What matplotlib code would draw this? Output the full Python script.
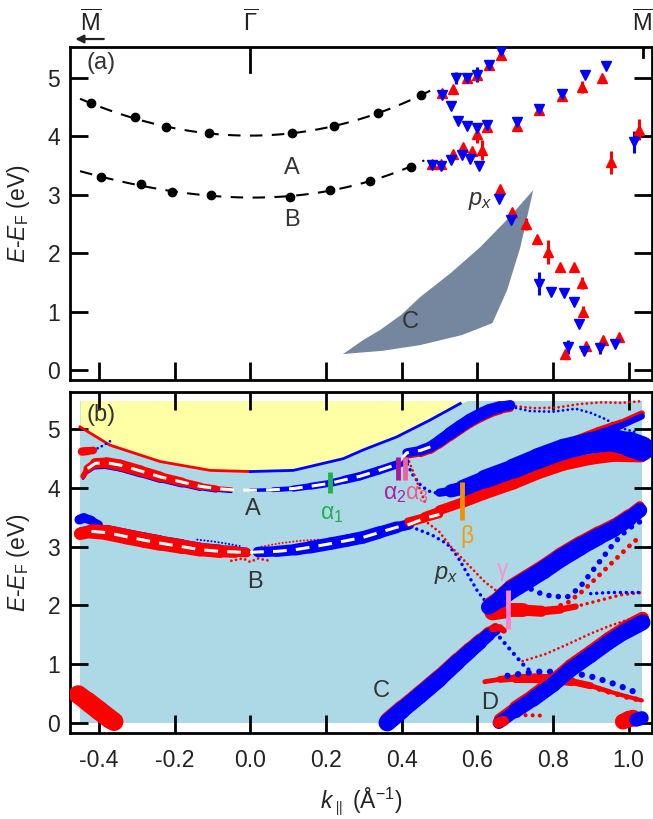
import numpy as np
import matplotlib
matplotlib.use("Agg")
import matplotlib.pyplot as plt
from matplotlib.collections import LineCollection
from matplotlib.transforms import blended_transform_factory

plt.rcParams["font.family"] = ["Liberation Sans", "DejaVu Sans"]
plt.rcParams["mathtext.fontset"] = "custom"
plt.rcParams["mathtext.rm"] = "Liberation Sans"
plt.rcParams["mathtext.it"] = "Liberation Sans:italic"
plt.rcParams["mathtext.bf"] = "Liberation Sans:bold"
plt.rcParams["axes.unicode_minus"] = False

RED = "#ff0000"
BLUE = "#0000ff"
TXT = "#333333"

# %% panel (a): measured points
dotA_k = [-0.422, -0.305, -0.223, -0.110, 0.111, 0.222, 0.337, 0.451]
dotA_e = [4.56, 4.32, 4.15, 4.05, 4.05, 4.18, 4.39, 4.70]
dotB_k = [-0.395, -0.290, -0.208, -0.104, 0.105, 0.211, 0.317, 0.425]
dotB_e = [3.30, 3.18, 3.04, 2.99, 2.96, 3.08, 3.24, 3.48]

up_k = [0.480, 0.504, 0.535, 0.562, 0.586, 0.612,
        0.508, 0.537, 0.573, 0.600, 0.632, 0.663,
        0.600, 0.625, 0.705, 0.763, 0.824, 0.877, 0.931,
        1.027, 0.954,
        0.661, 0.692, 0.729, 0.758, 0.788, 0.818, 0.855, 0.878, 0.879,
        0.833, 0.887, 0.932, 0.974]
up_e = [3.53, 3.53, 3.70, 3.81, 3.74, 3.76,
        4.74, 4.81, 5.00, 5.05, 5.22, 5.38,
        4.03, 4.15, 4.17, 4.44, 4.68, 4.84, 5.00,
        4.11, 3.55,
        3.09, 2.70, 2.50, 2.25, 2.02, 1.77, 1.76, 1.49, 1.00,
        0.28, 0.42, 0.51, 0.56]
up_err = [0, 0, 0, 0, 0, 0.17,
          0, 0, 0, 0, 0, 0,
          0.14, 0, 0, 0, 0, 0.10, 0,
          0.18, 0.19,
          0, 0, 0.10, 0, 0.20, 0, 0, 0.10, 0.10,
          0, 0, 0, 0]

dn_k = [0.480, 0.504, 0.531, 0.559, 0.581, 0.605,
        0.508, 0.531, 0.550, 0.574, 0.600, 0.625, 0.705, 0.763, 0.824, 0.884, 0.940,
        0.543, 0.573, 0.600, 0.632, 0.663,
        1.014,
        0.657, 0.689,
        0.762, 0.795, 0.830, 0.856, 0.868, 0.840, 0.883, 0.925, 0.965]
dn_e = [3.50, 3.49, 3.59, 3.68, 3.61, 3.49,
        4.70, 4.51, 4.26, 4.17, 4.14, 4.19, 4.24, 4.46, 4.72, 5.05, 5.20,
        5.00, 5.00, 5.05, 5.22, 5.45,
        3.90,
        2.92, 2.56,
        1.48, 1.34, 1.32, 1.17, 0.78, 0.40, 0.33, 0.37, 0.44]
dn_err = [0, 0, 0, 0, 0, 0,
          0, 0, 0, 0, 0, 0, 0, 0, 0, 0, 0,
          0.10, 0, 0.13, 0, 0,
          0.19,
          0, 0,
          0.20, 0, 0, 0, 0, 0.12, 0, 0.10, 0]

regionC_k = [0.245, 0.300, 0.343, 0.400, 0.449, 0.530, 0.608, 0.680, 0.748,
             0.714, 0.679, 0.640, 0.560, 0.449, 0.350, 0.245]
regionC_e = [0.274, 0.520, 0.684, 0.950, 1.248, 1.660, 2.103, 2.580, 3.077,
             2.103, 1.368, 0.803, 0.600, 0.427, 0.330, 0.274]

# %% panel (b): calculated bands  (k, E, width in pt)
bg_k = [-0.45, 1.035]
bg_e = [0.0, 5.49]

yel_k = [-0.45, -0.371, -0.238, -0.106, 0.0, 0.114, 0.246, 0.299, 0.387, 0.476, 0.555, 0.575]
yel_e = [5.04, 4.73, 4.45, 4.30, 4.28, 4.30, 4.50, 4.65, 4.87, 5.16, 5.44, 5.49]

topblob_k = [-0.445, -0.43, -0.415]
topblob_e = [4.62, 4.63, 4.64]
topblob_w = [6, 6, 5]

A_red_k = [-0.442, -0.43, -0.41, -0.38, -0.344, -0.29, -0.238, -0.18, -0.133, -0.09, -0.05]
A_red_e = [4.20, 4.33, 4.42, 4.43, 4.39, 4.29, 4.19, 4.10, 4.03, 3.99, 3.97]
A_red_w = [3, 5, 7, 8, 8, 8, 7, 6, 5, 4, 3]
A_blue_k = [0.0, 0.06, 0.114, 0.16, 0.211, 0.25, 0.29, 0.34, 0.387, 0.41]
A_blue_e = [3.96, 3.97, 3.99, 4.03, 4.08, 4.14, 4.20, 4.30, 4.40, 4.45]
A_blue_w = [2, 3, 4, 5, 5, 6, 6, 6, 6, 5]

A2_k = [0.414, 0.45, 0.476, 0.50, 0.528, 0.555, 0.581, 0.61, 0.634, 0.66, 0.687]
A2_e = [4.60, 4.64, 4.70, 4.80, 4.93, 5.05, 5.16, 5.26, 5.33, 5.38, 5.41]
A2_w = [6, 7, 8, 8, 9, 9, 9, 9, 9, 8, 7]

B_red_k = [-0.45, -0.42, -0.38, -0.327, -0.28, -0.238, -0.18, -0.133, -0.08, -0.04, -0.01]
B_red_e = [3.22, 3.26, 3.24, 3.17, 3.11, 3.06, 3.00, 2.95, 2.92, 2.91, 2.90]
B_red_w = [8, 10, 11, 11, 11, 11, 10, 10, 9, 8, 6]
B_curl_k = [-0.452, -0.44, -0.42, -0.40]
B_curl_e = [3.46, 3.49, 3.45, 3.38]
B_curl_w = [7, 7, 6, 5]
B_blue_k = [0.02, 0.07, 0.12, 0.158, 0.211, 0.26, 0.299, 0.34, 0.387, 0.42]
B_blue_e = [2.91, 2.92, 2.95, 2.99, 3.05, 3.11, 3.16, 3.24, 3.33, 3.38]
B_blue_w = [7, 8, 8, 9, 9, 9, 9, 9, 8, 7]
B_tail_k = [0.42, 0.46, 0.50]
B_tail_e = [3.41, 3.48, 3.55]
B_tail_w = [6, 6, 5]

big_blue_k = [0.50, 0.53, 0.563, 0.62, 0.696, 0.76, 0.828, 0.90, 0.96, 1.00, 1.035]
big_blue_e = [3.92, 3.95, 4.00, 4.15, 4.33, 4.50, 4.66, 4.77, 4.81, 4.75, 4.67]
big_blue_w = [4, 8, 11, 13, 14, 15, 15, 15, 16, 17, 19]
big_red_k = [0.414, 0.46, 0.50, 0.563, 0.62, 0.696, 0.76, 0.828, 0.90, 0.96, 1.035]
big_red_e = [3.45, 3.53, 3.62, 3.76, 3.90, 4.07, 4.24, 4.39, 4.49, 4.54, 4.53]
big_red_w = [3, 4, 6, 8, 8, 8, 8, 8, 8, 8, 8]
branch_k = [0.80, 0.86, 0.92, 0.98, 1.035]
branch_e = [4.62, 4.78, 4.93, 5.06, 5.22]
branch_w = [4, 5, 5, 5, 4]

gam_k = [0.63, 0.66, 0.687, 0.73, 0.775, 0.82, 0.872, 0.92, 0.96, 1.00, 1.03]
gam_e = [1.97, 2.10, 2.25, 2.42, 2.60, 2.80, 3.00, 3.17, 3.30, 3.47, 3.62]
gam_w = [10, 12, 13, 13, 13, 13, 13, 12, 12, 11, 10]
low_red_k = [0.64, 0.68, 0.72, 0.77, 0.82, 0.86]
low_red_e = [1.88, 1.92, 1.92, 1.90, 1.93, 1.98]
low_red_w = [12, 11, 9, 7, 5, 4]

C_k = [0.362, 0.40, 0.447, 0.50, 0.547, 0.58, 0.607, 0.63, 0.648]
C_e = [0.0, 0.21, 0.46, 0.75, 1.03, 1.22, 1.37, 1.50, 1.58]
C_w = [13, 12, 12, 12, 11, 11, 10, 9, 7]
Ccap_k = [0.64, 0.66, 0.67]
Ccap_e = [1.60, 1.62, 1.57]

D_k = [0.657, 0.70, 0.747, 0.80, 0.847, 0.90, 0.947, 0.99, 1.037]
D_e = [0.0, 0.2, 0.40, 0.65, 0.91, 1.15, 1.37, 1.55, 1.71]
D_w = [8, 10, 11, 11, 11, 11, 11, 11, 12]

mid_red_k = [0.62, 0.66, 0.70, 0.75, 0.80, 0.85, 0.90, 0.95, 1.00, 1.035]
mid_red_e = [0.70, 0.74, 0.76, 0.76, 0.74, 0.70, 0.63, 0.53, 0.44, 0.38]
mid_red_w = [3, 4, 6, 7, 7, 6, 4, 3, 3, 3]
mid_blue_k = [0.68, 0.72, 0.76, 0.80, 0.85, 0.90, 0.95, 1.00, 1.035]
mid_blue_e = [0.80, 0.84, 0.87, 0.87, 0.85, 0.79, 0.69, 0.57, 0.47]

corner_k = [-0.455, -0.43, -0.40, -0.37, -0.36]
corner_e = [0.48, 0.36, 0.21, 0.06, 0.02]
corner_w = [13, 14, 14, 14, 13]
br_red_k = [0.985, 1.0, 1.012]
br_red_e = [0.02, 0.06, 0.08]
br_blue_k = [1.02, 1.035]
br_blue_e = [0.05, 0.08]

# thin dotted / beaded bands: (k, E, dot size, colour)
dotted = [
    ([-0.415, -0.39, -0.37], [4.64, 4.72, 4.80], 2.0, BLUE),
    ([0.415, 0.43, 0.45, 0.47, 0.50], [4.40, 4.22, 4.05, 3.95, 3.90], 2.5, BLUE),
    ([0.42, 0.435, 0.45, 0.465], [4.45, 4.20, 3.95, 3.70], 2.0, RED),
    ([0.44, 0.48, 0.52, 0.546, 0.573, 0.60, 0.63], [3.30, 3.20, 3.05, 2.85, 2.55, 2.25, 2.00], 2.5, BLUE),
    ([0.47, 0.50, 0.53, 0.56, 0.59, 0.62, 0.65], [3.40, 3.25, 3.00, 2.80, 2.60, 2.40, 2.25], 2.0, RED),
    ([0.69, 0.75, 0.81, 0.87, 0.93, 0.98, 1.035], [5.40, 5.36, 5.37, 5.43, 5.46, 5.45, 5.48], 2.0, RED),
    ([0.69, 0.74, 0.80, 0.86, 0.90, 0.94, 0.98, 1.02], [5.38, 5.31, 5.30, 5.35, 5.28, 5.17, 5.02, 4.95], 2.0, BLUE),
    ([-0.14, -0.10, -0.06, -0.02], [3.12, 3.09, 3.05, 3.00], 1.5, BLUE),
    ([0.03, 0.08, 0.13, 0.18], [3.00, 3.06, 3.10, 3.12], 1.5, RED),
    ([-0.05, -0.02, 0.0, 0.02, 0.05], [2.76, 2.80, 2.74, 2.80, 2.76], 2.0, RED),
    ([0.72, 0.76, 0.80, 0.84, 0.87, 0.90, 0.93, 0.96, 0.99, 1.02, 1.04], [2.35, 2.22, 2.15, 2.15, 2.30, 2.55, 2.80, 3.05, 3.25, 3.40, 3.45], 4.0, BLUE),
    ([0.80, 0.84, 0.88, 0.92, 0.96, 1.00, 1.035], [1.95, 2.05, 2.25, 2.50, 2.75, 3.00, 3.20], 3.5, RED),
    ([0.86, 0.92, 0.98, 1.035], [1.98, 2.08, 2.18, 2.22], 2.5, RED),
    ([0.90, 0.95, 1.00, 1.035], [2.20, 2.22, 2.22, 2.22], 2.5, BLUE),
    ([0.66, 0.68, 0.70, 0.72, 0.74], [1.45, 1.30, 1.15, 1.00, 0.88], 3.0, BLUE),
    ([0.72, 0.78, 0.84, 0.90, 0.95, 1.00, 1.035], [1.05, 1.17, 1.34, 1.52, 1.65, 1.76, 1.82], 2.0, RED),
    ([0.69, 0.73, 0.78], [0.12, 0.13, 0.12], 3.0, RED),
    ([0.85, 0.90, 0.95, 1.00, 1.035], [0.70, 0.62, 0.52, 0.43, 0.38], 4.0, RED),
]

markers = [  # k, E_low, E_high, colour
    (0.211, 3.91, 4.28, "#1db34a"),
    (0.390, 4.13, 4.53, "#a8199a"),
    (0.409, 4.13, 4.53, "#f26395"),
    (0.559, 3.45, 4.11, "#f0900a"),
    (0.680, 1.60, 2.26, "#ff80cc"),
]
greek = [  # text, k, E, colour
    (r"$\mathrm{\alpha}_1$", 0.215, 3.57, "#1db34a"),
    (r"$\mathrm{\alpha}_2$", 0.383, 3.91, "#b01e9c"),
    (r"$\mathrm{\alpha}_3$", 0.441, 3.91, "#ee5a8f"),
    (r"$\mathrm{\beta}$", 0.573, 3.17, "#f39c12"),
    (r"$\mathrm{\gamma}$", 0.667, 2.57, "#ff8fd0"),
]


def fat(ax, k, e, w, color, z=3, de=0.0):
    pts = np.column_stack([k, np.asarray(e) + de])
    segs = np.stack([pts[:-1], pts[1:]], axis=1)
    w = np.asarray(w, float)
    lc = LineCollection(segs, linewidths=(w[:-1] + w[1:]) / 2, colors=color,
                        capstyle="round", joinstyle="round", zorder=z)
    ax.add_collection(lc)


def beads(ax, k, e, size, color, z=2):
    ax.plot(k, e, color=color, lw=size, ls=(0, (0.01, 1.7)),
            dash_capstyle="round", zorder=z)


# %% figure
fig = plt.figure(figsize=(6.53, 8.19), dpi=100)
ax_a = fig.add_axes([0.1072, 0.5360, 0.8913, 0.4066])
ax_b = fig.add_axes([0.1072, 0.1046, 0.8913, 0.4171])

xlim = (-0.4766, 1.062)
for ax in (ax_a, ax_b):
    ax.set_xlim(*xlim)
    ax.set_xticks([-0.4, -0.2, 0.0, 0.2, 0.4, 0.6, 0.8, 1.0])
    ax.set_yticks([0, 1, 2, 3, 4, 5])
    ax.tick_params(direction="in", length=13, width=2, labelsize=16.5,
                   labelcolor="#222222", left=True, right=True, bottom=True)
    ax.tick_params(axis="y", pad=7)
    ax.tick_params(axis="x", pad=11)
    for s in ax.spines.values():
        s.set_linewidth(2)
    ax.set_ylabel(r"$E$-$E_{\rm F}$ (eV)", fontsize=16.5, color="#222222")
    ax.yaxis.set_label_coords(-0.066, 0.5)

ax_a.set_ylim(-0.17, 5.525)
ax_b.set_ylim(-0.18, 5.64)
ax_a.tick_params(top=False, labelbottom=False)
ax_b.tick_params(top=True)
ax_b.set_xlabel(r"$k_{\parallel}$ (Å$^{-1}$)", fontsize=16.5, color="#222222")
ax_b.xaxis.set_label_coords(0.5, -0.152)

# ---------------- panel (a)
cA = np.polyfit(dotA_k, dotA_e, 3)
cB = np.polyfit(dotB_k, dotB_e, 3)
kk = np.linspace(-0.45, 0.48, 120)
ax_a.plot(kk, np.polyval(cA, kk), color="k", lw=1.5, dashes=(6, 4.5), zorder=2)
kk = np.linspace(-0.45, 0.46, 120)
ax_a.plot(kk, np.polyval(cB, kk), color="k", lw=1.5, dashes=(6, 4.5), zorder=2)
ax_a.plot(dotA_k, dotA_e, "o", color="k", ms=6, zorder=3)
ax_a.plot(dotB_k, dotB_e, "o", color="k", ms=6, zorder=3)

ax_a.fill(regionC_k, regionC_e, color="#75879f", lw=0, zorder=1)

ax_a.errorbar(up_k, up_e, yerr=up_err, fmt="^", color=RED, ms=7.5,
              elinewidth=2.2, capsize=0, zorder=4)
ax_a.errorbar(dn_k, dn_e, yerr=dn_err, fmt="v", color=BLUE, ms=7.5,
              elinewidth=2.2, capsize=0, zorder=4)

ax_a.text(0.111, 3.46, "A", fontsize=17, color=TXT, ha="center", va="center")
ax_a.text(0.111, 2.57, "B", fontsize=17, color=TXT, ha="center", va="center")
ax_a.text(0.423, 0.82, "C", fontsize=17, color=TXT, ha="center", va="center")
ax_a.text(0.608, 2.90, r"$p_x$", fontsize=17, color=TXT, ha="center", va="center")
ax_a.text(0.0275, 0.952, "(a)", fontsize=17, color=TXT, transform=ax_a.transAxes,
          ha="left", va="center")

# symmetry points on top
trans = blended_transform_factory(ax_a.transData, ax_a.transAxes)
for lab, kx in [(r"$\overline{\mathrm{M}}$", -0.421), (r"$\overline{\Gamma}$", 0.0),
                (r"$\overline{\mathrm{M}}$", 1.039)]:
    ax_a.text(kx, 1.048, lab, fontsize=17, color="#222222", ha="center",
              va="baseline", transform=trans, clip_on=False)
ax_a.annotate("", xy=(-0.47, 1.024), xytext=(-0.38, 1.024), xycoords=trans,
              textcoords=trans, annotation_clip=False,
              arrowprops=dict(arrowstyle="-|>", lw=1.6, color="#222222",
                              mutation_scale=12))
ax_a.axvline(0.0, 0.925, 1.0, color="k", lw=2)
ax_a.axvline(1.039, 0.97, 1.0, color="k", lw=2)

# ---------------- panel (b)
ax_b.fill_between(bg_k, bg_e[0], bg_e[1], color="#add8e6", lw=0, zorder=0)
ax_b.fill_between(yel_k, yel_e, bg_e[1], color="#ffffa6", lw=0, zorder=0.5)
yk = np.array(yel_k)
ye = np.array(yel_e)
ax_b.plot(yk[yk <= 0], ye[yk <= 0], color=RED, lw=2, zorder=2)
ax_b.plot(yk[(yk >= 0) & (yk < 0.56)], ye[(yk >= 0) & (yk < 0.56)], color=BLUE, lw=2, zorder=2)

for k, e, s, c in dotted:
    beads(ax_b, k, e, s, c)

fat(ax_b, topblob_k, topblob_e, topblob_w, RED)
fat(ax_b, A_red_k, A_red_e, [w - 2 for w in A_red_w], BLUE, de=-0.04)
fat(ax_b, A_red_k, A_red_e, A_red_w, RED)
fat(ax_b, A_blue_k, A_blue_e, A_blue_w, BLUE)
fat(ax_b, A2_k, A2_e, [w - 2 for w in A2_w], RED, de=-0.05)
fat(ax_b, A2_k, A2_e, A2_w, BLUE)

fat(ax_b, B_curl_k, B_curl_e, B_curl_w, BLUE)
fat(ax_b, B_red_k, B_red_e, [w - 4 for w in B_red_w], BLUE, de=0.05)
fat(ax_b, B_red_k, B_red_e, B_red_w, RED)
fat(ax_b, B_blue_k, B_blue_e, B_blue_w, BLUE)
fat(ax_b, B_tail_k, B_tail_e, B_tail_w, RED)

fat(ax_b, big_red_k, big_red_e, big_red_w, RED)
fat(ax_b, branch_k, branch_e, branch_w, RED, de=0.05)
fat(ax_b, branch_k, branch_e, branch_w, BLUE)
fat(ax_b, big_blue_k, big_blue_e, big_blue_w, BLUE)

fat(ax_b, low_red_k, low_red_e, low_red_w, RED)
fat(ax_b, gam_k, gam_e, [w - 4 for w in gam_w], RED, de=0.08)
fat(ax_b, gam_k, gam_e, gam_w, BLUE)

fat(ax_b, mid_red_k, mid_red_e, mid_red_w, RED)
beads(ax_b, mid_blue_k, mid_blue_e, 4.5, BLUE, z=3)

fat(ax_b, C_k, C_e, [w - 2 for w in C_w], RED, de=0.05)
fat(ax_b, C_k, C_e, C_w, BLUE)
fat(ax_b, Ccap_k, Ccap_e, [5, 5, 4], RED)
fat(ax_b, D_k, D_e, [w - 2 for w in D_w], RED, de=0.07)
fat(ax_b, D_k, D_e, D_w, BLUE)
fat(ax_b, [0.655, 0.67], [0.0, 0.03], [8, 7], RED)

fat(ax_b, corner_k, corner_e, [w - 4 for w in corner_w], BLUE, de=-0.04)
fat(ax_b, corner_k, corner_e, corner_w, RED)
fat(ax_b, br_red_k, br_red_e, [11, 12, 12], RED)
fat(ax_b, br_blue_k, br_blue_e, [10, 10], BLUE)

# white dashed guides along A and B
wA_k = A_red_k[1:] + A_blue_k[:-1] + A2_k[:3]
wA_e = A_red_e[1:] + A_blue_e[:-1] + A2_e[:3]
wB_k = B_red_k[1:] + B_blue_k + B_tail_k[1:]
wB_e = B_red_e[1:] + B_blue_e + B_tail_e[1:]
ax_b.plot(wA_k, wA_e, color="white", lw=2.2, dashes=(4.5, 3), zorder=5)
ax_b.plot(wB_k, wB_e, color="white", lw=2.2, dashes=(4.5, 3), zorder=5)

for k, e0, e1, c in markers:
    ax_b.vlines(k, e0, e1, color=c, lw=3.5, zorder=6)
for t, k, e, c in greek:
    ax_b.text(k, e, t, fontsize=16.5, color=c, ha="center", va="center", zorder=6)

ax_b.text(0.008, 3.65, "A", fontsize=17, color=TXT, ha="center", va="center", zorder=6)
ax_b.text(0.012, 2.40, "B", fontsize=17, color=TXT, ha="center", va="center", zorder=6)
ax_b.text(0.345, 0.54, "C", fontsize=17, color=TXT, ha="center", va="center", zorder=6)
ax_b.text(0.632, 0.34, "D", fontsize=17, color=TXT, ha="center", va="center", zorder=6)
ax_b.text(0.517, 2.51, r"$p_x$", fontsize=17, color=TXT, ha="center", va="center", zorder=6)
ax_b.text(0.0275, 0.932, "(b)", fontsize=17, color=TXT, transform=ax_b.transAxes,
          ha="left", va="center", zorder=6)

fig.savefig("out.png", dpi=100)
